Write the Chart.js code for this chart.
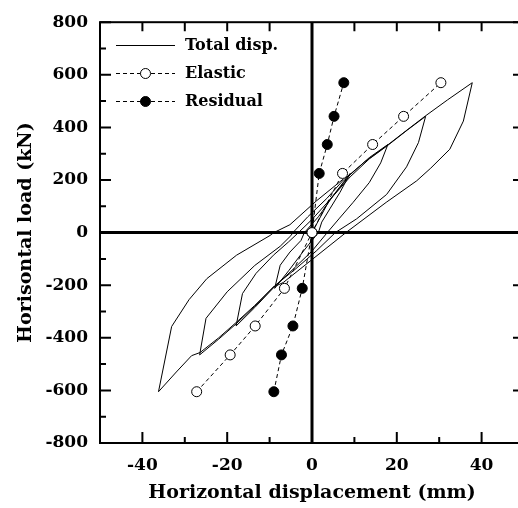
<!DOCTYPE html>
<html>
<head>
<meta charset="utf-8">
<script src="https://cdn.jsdelivr.net/npm/chart.js@4.4.0/dist/chart.umd.min.js"></script>
<style>
  html, body { margin: 0; padding: 0; background: #fff; overflow: hidden; width: 518px; height: 508px; }
  #wrap { position: relative; width: 530px; height: 508px; }
  canvas { display: block; }
</style>
</head>
<body>
<div id="wrap"><canvas id="c" width="530" height="508"></canvas></div>
<script>
// Load-displacement history (mm, kN), in loading order
const totalDisp = [
  0, 4, 9,
  6.6, 4.2, 2.3, 1.5, -2, -5.5, -8.8,
  -7.5, -5.2, -2.6, -1.8, 1.5, 5, 9, 13.5, 17.9,
  16.2, 13.5, 9.7, 6.5, 3.6, 0, -4.5, -8.8, -13.5, -17.9,
  -16.4, -13.2, -9.1, -5.5, -3.2, 0, 4.5, 9, 13.5, 17.9, 22.5, 26.8,
  25.1, 22.3, 17.6, 10.5, 5.5, 1, -4, -8.8, -13.5, -17.9, -22, -26.5,
  -25, -20, -13.5, -7.5, -5, -4.5, -1, 3.5, 7.4, 12.5, 17.6, 22, 26.7, 32, 37.8,
  35.7, 32.5, 28, 24.7, 17.5, 8, -6.8, -9.1, -13.5, -17.9, -22, -26.4, -28.4, -32, -36.2,
  -33.1, -29, -24.8, -17.8, -9.9, -9, -5.2, 1, 7.4
];
const totalLoad = [
  0, 120, 225,
  153, 90, 40, 0, -70, -145, -212,
  -124, -74, -30, 0, 60, 140, 220, 285, 335,
  265, 190, 115, 55, 0, -70, -140, -205, -285, -355,
  -232, -155, -86, -35, 0, 50, 130, 212, 280, 332, 390, 442,
  342, 250, 145, 52, 0, -70, -140, -202, -280, -347, -405, -465,
  -326, -225, -125, -52, -12, 0, 60, 130, 200, 270, 330, 385, 443, 505, 570,
  424, 317, 245, 197, 115, 0, -190, -207, -277, -342, -400, -456, -468, -530, -605,
  -357, -255, -175, -86, -11, 0, 30, 120, 204
];

// Elastic and residual parts of the peak displacements
const elasticDisp  = [-27.2, -19.3, -13.4, -6.5, 0, 7.2, 14.3, 21.6, 30.4];
const elasticLoad  = [-605, -465, -355, -212, 0, 225, 335, 442, 570];
const residualDisp = [-9.0, -7.2, -4.5, -2.3, 0, 1.7, 3.6, 5.2, 7.5];
const residualLoad = [-605, -465, -355, -212, 0, 225, 335, 442, 570];

const xTicks = [-40, -20, 0, 20, 40];
const yTicks = [-800, -600, -400, -200, 0, 200, 400, 600, 800];

const FONT = 'DejaVu Serif';
const pts = (xs, ys) => xs.map((x, i) => ({ x, y: ys[i] }));

// Frame, zero axes, inward ticks and the legend
const framePlugin = {
  id: 'frame',
  beforeDatasetsDraw(chart) {
    const { ctx, chartArea: a, scales: { x, y } } = chart;
    ctx.save();
    ctx.strokeStyle = '#000';
    ctx.lineWidth = 3;
    const x0 = x.getPixelForValue(0), y0 = y.getPixelForValue(0);
    ctx.beginPath();
    ctx.moveTo(a.left, y0); ctx.lineTo(a.right, y0);
    ctx.moveTo(x0, a.top); ctx.lineTo(x0, a.bottom);
    ctx.stroke();
    ctx.restore();
  },
  afterDraw(chart) {
    const { ctx, chartArea: a, scales: { x, y } } = chart;
    ctx.save();
    ctx.strokeStyle = '#000';
    ctx.lineWidth = 2;
    ctx.strokeRect(a.left, a.top, a.right - a.left, a.bottom - a.top);
    ctx.beginPath();
    for (let v = -50; v <= 50; v += 10) {
      const px = x.getPixelForValue(v);
      const len = v % 20 === 0 ? 11 : 6;
      ctx.moveTo(px, a.bottom); ctx.lineTo(px, a.bottom - len);
      ctx.moveTo(px, a.top); ctx.lineTo(px, a.top + 9);
    }
    for (let v = -800; v <= 800; v += 100) {
      const py = y.getPixelForValue(v);
      const len = v % 200 === 0 ? 11 : 6;
      ctx.moveTo(a.left, py); ctx.lineTo(a.left + len, py);
      if (v % 200 === 0) { ctx.moveTo(a.right, py); ctx.lineTo(a.right - 11, py); }
    }
    ctx.stroke();

    // legend
    const rows = [
      { label: 'Total disp.', dash: [], marker: null },
      { label: 'Elastic', dash: [4, 3], marker: '#fff' },
      { label: 'Residual', dash: [4, 3], marker: '#000' }
    ];
    ctx.font = 'bold 16px "' + FONT + '"';
    ctx.textBaseline = 'middle';
    ctx.fillStyle = '#000';
    rows.forEach((r, i) => {
      const yy = 45 + i * 28;
      ctx.lineWidth = 1;
      ctx.setLineDash(r.dash);
      ctx.beginPath();
      ctx.moveTo(116, yy + 0.5); ctx.lineTo(175, yy + 0.5);
      ctx.stroke();
      ctx.setLineDash([]);
      if (r.marker) {
        ctx.beginPath();
        ctx.arc(145.5, yy + 0.5, 5, 0, Math.PI * 2);
        ctx.fillStyle = r.marker;
        ctx.fill();
        ctx.stroke();
      }
      ctx.fillStyle = '#000';
      ctx.fillText(r.label, 185, yy + 1);
    });
    ctx.restore();
  }
};

const tickFont = { family: FONT, weight: 'bold', size: 17 };
const titleFont = { family: FONT, weight: 'bold', size: 19 };

new Chart(document.getElementById('c'), {
  type: 'scatter',
  data: {
    datasets: [
      {
        label: 'Elastic',
        data: pts(elasticDisp, elasticLoad),
        showLine: true,
        borderColor: '#000',
        borderWidth: 1,
        borderDash: [4, 3],
        pointRadius: 5,
        pointBackgroundColor: '#fff',
        pointBorderColor: '#000',
        pointBorderWidth: 1,
        order: 0
      },
      {
        label: 'Residual',
        data: pts(residualDisp, residualLoad),
        showLine: true,
        borderColor: '#000',
        borderWidth: 1,
        borderDash: [4, 3],
        pointRadius: 5,
        pointBackgroundColor: '#000',
        pointBorderColor: '#000',
        pointBorderWidth: 1,
        order: 1
      },
      {
        label: 'Total disp.',
        data: pts(totalDisp, totalLoad),
        showLine: true,
        borderColor: '#000',
        borderWidth: 1,
        pointRadius: 0,
        tension: 0,
        order: 2
      }
    ]
  },
  options: {
    responsive: false,
    animation: false,
    devicePixelRatio: 1,
    layout: { padding: { top: 19, right: 6, left: 0, bottom: 0 } },
    plugins: { legend: { display: false }, tooltip: { enabled: false } },
    scales: {
      x: {
        type: 'linear', min: -50, max: 50,
        afterBuildTicks: s => { s.ticks = xTicks.map(v => ({ value: v })); },
        afterFit: s => { s.height = 65; },
        grid: { display: false, drawTicks: false },
        border: { display: false },
        ticks: { font: tickFont, color: '#000', padding: 12, maxRotation: 0 },
        title: { display: true, text: 'Horizontal displacement (mm)', font: titleFont, color: '#000', padding: { top: 0, bottom: 4 } }
      },
      y: {
        type: 'linear', min: -800, max: 800,
        afterBuildTicks: s => { s.ticks = yTicks.map(v => ({ value: v })); },
        afterFit: s => { s.width = 100; },
        grid: { display: false, drawTicks: false },
        border: { display: false },
        ticks: { font: tickFont, color: '#000', padding: 12 },
        title: { display: true, text: 'Horisontal load (kN)', font: titleFont, color: '#000', padding: { top: 15, bottom: 0 } }
      }
    }
  },
  plugins: [framePlugin]
});
</script>
</body>
</html>
